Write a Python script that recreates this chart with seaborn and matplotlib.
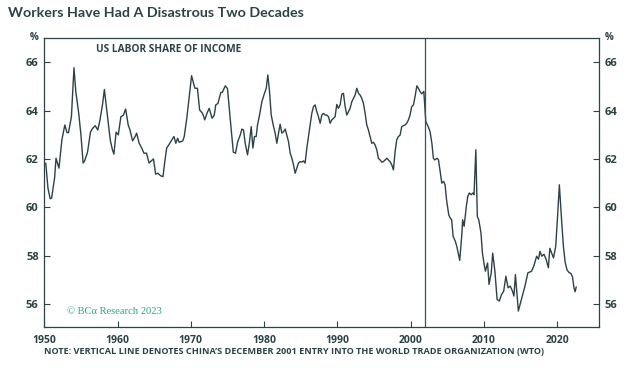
import matplotlib
matplotlib.use("Agg")
import matplotlib.pyplot as plt
import seaborn as sns
import pandas as pd

# ---- data ----
years = [
    1950.2, 1950.5, 1950.8, 1951.0, 1951.4, 1951.6, 1952.0, 1952.4, 1952.8, 1953.1,
    1953.3, 1953.7, 1954.05, 1954.3, 1954.7, 1955.0, 1955.3, 1955.5, 1955.9, 1956.3,
    1956.6, 1956.95, 1957.3, 1957.6, 1957.95, 1958.2, 1958.5, 1959.0, 1959.3, 1959.5,
    1959.8, 1960.1, 1960.45, 1960.8, 1961.1, 1961.45, 1961.7, 1962.05, 1962.4, 1962.6,
    1962.95, 1963.3, 1963.6, 1963.95, 1964.3, 1964.6, 1964.9, 1965.2, 1965.5, 1965.9,
    1966.2, 1966.45, 1966.7, 1967.05, 1967.4, 1967.7, 1967.95, 1968.2, 1968.4, 1968.9,
    1969.1, 1969.45, 1969.8, 1970.1, 1970.55, 1970.9, 1971.2, 1971.6, 1971.9, 1972.2,
    1972.5, 1972.9, 1973.2, 1973.4, 1973.7, 1974.1, 1974.3, 1974.7, 1975.0, 1975.2,
    1975.45, 1975.8, 1976.1, 1976.4,
    1976.74, 1976.97, 1977.19, 1977.42, 1977.74, 1978.01, 1978.24, 1978.47, 1978.69, 1978.92,
    1979.10, 1979.38, 1979.69, 1980.01, 1980.29, 1980.51, 1980.74, 1980.97, 1981.29, 1981.51,
    1981.74, 1981.97, 1982.19, 1982.42, 1982.65, 1982.88, 1983.10, 1983.33, 1983.56, 1983.79,
    1984.01, 1984.24, 1984.47, 1984.69, 1984.92, 1985.15, 1985.38, 1985.60, 1985.83, 1986.06,
    1986.29, 1986.51, 1986.74, 1986.97, 1987.19, 1987.42, 1987.65, 1987.88, 1988.10, 1988.33,
    1988.56, 1988.79, 1989.01, 1989.24, 1989.47, 1989.69, 1989.92, 1990.15, 1990.38, 1990.60,
    1990.83, 1991.06, 1991.29, 1991.51, 1991.74, 1991.97, 1992.19, 1992.42, 1992.65, 1992.88,
    1993.10, 1993.33, 1993.56, 1993.79, 1994.01, 1994.24, 1994.47, 1994.70, 1994.92, 1995.15,
    1995.38, 1995.60, 1995.83, 1996.06, 1996.29, 1996.51, 1996.74, 1996.97, 1997.19, 1997.42,
    1997.65, 1997.88, 1998.10, 1998.33, 1998.56, 1998.79, 1999.01, 1999.24, 1999.47, 1999.70,
    1999.92, 2000.15, 2000.38, 2000.60, 2000.85, 2001.06, 2001.29, 2001.52, 2001.80,
    2002.07, 2002.4, 2002.65, 2002.9, 2003.1, 2003.3, 2003.6, 2003.8, 2004.0, 2004.25,
    2004.5, 2004.7, 2004.9, 2005.2, 2005.4, 2005.6, 2005.8, 2006.1, 2006.3, 2006.5,
    2006.7, 2007.0, 2007.1, 2007.3, 2007.6, 2007.8, 2008.0, 2008.25, 2008.5, 2008.65,
    2008.9, 2009.1, 2009.3, 2009.6, 2009.8, 2010.0, 2010.2, 2010.5, 2010.7, 2011.0,
    2011.2, 2011.5, 2011.8, 2012.1, 2012.4, 2012.7, 2013.0, 2013.3, 2013.6, 2013.9,
    2014.1, 2014.3, 2014.5, 2014.7, 2015.0, 2015.3, 2015.6, 2016.0, 2016.5, 2016.8,
    2017.2, 2017.45, 2017.65, 2017.9, 2018.2, 2018.5, 2018.8, 2019.0, 2019.25, 2019.5,
    2019.8, 2020.05, 2020.3, 2020.6, 2020.85, 2021.1, 2021.35, 2021.6, 2021.9, 2022.1,
    2022.3, 2022.45, 2022.6,
]
labor_share = [
    61.83, 60.79, 60.35, 60.38, 61.20, 62.03, 61.62, 62.79, 63.41, 63.09,
    63.09, 63.75, 65.78, 64.79, 63.89, 63.00, 61.83, 61.92, 62.28, 63.11,
    63.27, 63.38, 63.20, 63.62, 64.26, 64.88, 64.10, 62.79, 62.38, 62.20,
    63.11, 63.00, 63.75, 63.82, 64.07, 63.41, 63.20, 62.75, 62.93, 63.07,
    62.65, 62.45, 62.24, 62.24, 61.83, 61.92, 62.00, 61.37, 61.41, 61.30,
    61.27, 61.90, 62.45, 62.61, 62.79, 62.93, 62.65, 62.86, 62.69, 62.75,
    62.93, 63.69, 64.65, 65.45, 64.93, 64.93, 64.03, 63.89, 63.62, 63.89,
    64.10, 63.69, 63.82, 64.24, 64.30, 64.76, 64.76, 65.03, 64.92, 64.24,
    63.41, 62.28, 62.24, 62.72,
    62.99, 63.24, 63.20, 62.65, 62.17, 62.72, 63.34, 62.45, 62.93, 62.93,
    63.41, 63.82, 64.37, 64.68, 64.93, 65.48, 64.79, 63.82, 63.34, 63.07,
    62.65, 63.07, 63.44, 63.07, 63.13, 63.24, 62.99, 62.72, 62.24, 62.03,
    61.76, 61.41, 61.62, 61.83, 61.89, 61.87, 61.92, 61.83, 62.45, 62.93,
    63.41, 63.89, 64.17, 64.24, 63.96, 63.75, 63.48, 63.82, 63.89, 63.82,
    63.82, 63.75, 63.48, 63.62, 63.69, 63.75, 64.26, 64.10, 64.24, 64.68,
    64.72, 64.17, 63.82, 63.96, 64.10, 64.37, 64.51, 64.65, 64.93, 64.72,
    64.65, 64.51, 64.30, 63.89, 63.41, 63.20, 62.93, 62.65, 62.69, 62.58,
    62.38, 62.03, 61.96, 61.87, 61.89, 61.96, 62.03, 61.96, 61.89, 61.76,
    61.55, 62.31, 62.79, 62.93, 62.99, 63.34, 63.38, 63.41, 63.48, 63.62,
    63.82, 64.17, 64.24, 64.58, 65.03, 64.93, 64.79, 64.70, 64.80,
    63.55, 63.34, 63.13, 62.65, 62.03, 61.96, 62.03, 61.96, 61.55, 61.00,
    61.07, 60.93, 60.31, 59.69, 59.55, 59.48, 58.79, 58.59, 58.38, 58.10,
    57.80, 58.93, 59.48, 59.21, 60.03, 60.45, 60.59, 60.52, 60.59, 60.52,
    62.38, 59.62, 59.48, 58.93, 58.10, 57.69, 57.35, 57.69, 56.80, 57.28,
    58.10, 57.35, 56.18, 56.11, 56.38, 56.52, 57.14, 56.66, 56.73, 56.52,
    56.32, 57.21, 56.45, 55.70, 56.04, 56.38, 56.73, 57.28, 57.35, 57.55,
    57.97, 57.85, 58.17, 57.97, 58.05, 57.83, 57.49, 58.30, 58.10, 57.90,
    58.38, 59.60, 60.93, 59.48, 58.38, 57.70, 57.40, 57.30, 57.25, 57.10,
    56.65, 56.50, 56.70,
]
x_ticks = [1950, 1960, 1970, 1980, 1990, 2000, 2010, 2020]
y_ticks = [56, 58, 60, 62, 64, 66]
wto_entry = 2001.92

title = "Workers Have Had A Disastrous Two Decades"
panel_label = "US LABOR SHARE OF INCOME"
note = "NOTE: VERTICAL LINE DENOTES CHINA\u2019S DECEMBER 2001 ENTRY INTO THE WORLD TRADE ORGANIZATION (WTO)"
credit = "\u00a9 BC\u03b1 Research 2023"

# ---- style ----
sns.set_theme(style="white")
plt.rcParams["font.family"] = ["Open Sans", "DejaVu Sans"]
dark = "#2b4346"
green = "#2fa688"

df = pd.DataFrame({"year": years, "share": labor_share})

fig = plt.figure(figsize=(6.31, 3.70), dpi=100)
ax = fig.add_axes([44.3 / 631, 1 - 326.7 / 370, (599.3 - 44.3) / 631, (326.7 - 38.3) / 370])

sns.lineplot(data=df, x="year", y="share", ax=ax, color=dark, linewidth=1.0)
ax.axvline(wto_entry, color="#3b5254", linewidth=0.9)

ax.set_xlim(1950, 2025.75)
ax.set_ylim(55.05, 67.0)
ax.set_xticks(x_ticks)
ax.set_yticks(y_ticks)
ax.set_xlabel("")
ax.set_ylabel("")

for s in ax.spines.values():
    s.set_color(dark)
    s.set_linewidth(0.9)
    s.set_visible(True)

ax.tick_params(axis="y", direction="in", length=4.5, width=0.8, color=dark,
               left=True, right=True, labelleft=True, labelright=True,
               labelsize=8, labelcolor=dark, pad=4)
ax.tick_params(axis="x", direction="in", length=4.5, width=0.8, color=dark,
               bottom=True, labelsize=7.5, labelcolor=dark, pad=6)
for lab in ax.get_xticklabels() + ax.get_yticklabels():
    lab.set_fontweight("bold")

fig.text(8 / 631, 1 - 13 / 370, title, fontsize=10.3, fontweight="bold",
         color=dark, va="center", ha="left", family=["Lato", "DejaVu Sans"])
fig.text(34 / 631, 1 - 38 / 370, "%", fontsize=7, fontweight="bold", color=dark,
         va="center", ha="center")
fig.text(609 / 631, 1 - 38 / 370, "%", fontsize=7, fontweight="bold", color=dark,
         va="center", ha="center")
fig.text(96 / 631, 1 - 50 / 370, panel_label, fontsize=7.3, fontweight="bold",
         color=dark, va="center", ha="left")
fig.text(67 / 631, 1 - 312 / 370, credit, fontsize=7.6, color=green,
         family=["Liberation Serif", "DejaVu Serif"], va="center", ha="left")
fig.text(44 / 631, 1 - 352 / 370, note, fontsize=6.55, fontweight="bold",
         color=dark, va="center", ha="left")

fig.savefig("out.png", dpi=100)
